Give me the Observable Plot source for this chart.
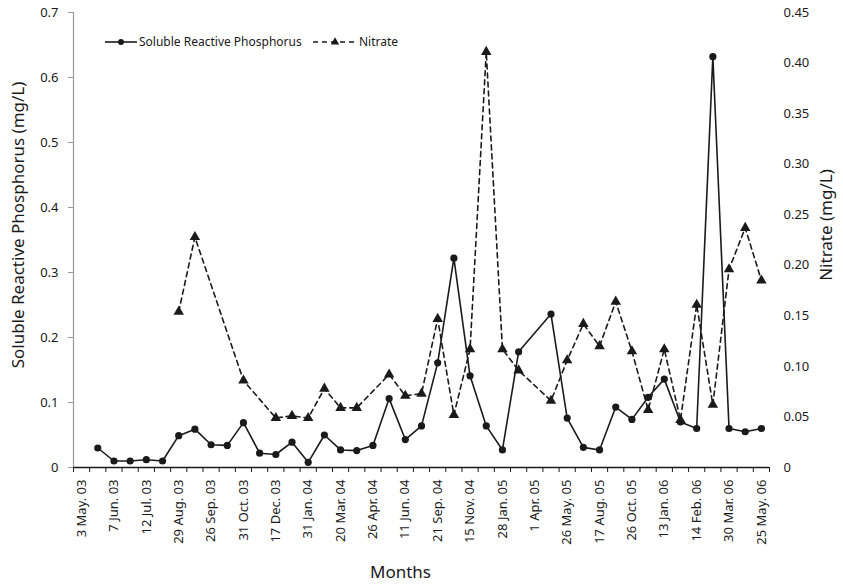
<!DOCTYPE html>
<html><head><meta charset="utf-8">
<script src="https://cdn.jsdelivr.net/npm/d3@7"></script>
<script src="https://cdn.jsdelivr.net/npm/@observablehq/plot@0.6"></script>
<style>
body{margin:0;background:#fff;}
#wrap{position:relative;width:843px;height:587px;font-family:"Noto Sans",sans-serif;color:#1a1a1a;}
#legend{position:absolute;left:0;top:0;pointer-events:none;}
</style></head><body><div id="wrap"></div>
<script>
const tickLabels = ["3 May. 03","7 Jun. 03","12 Jul. 03","29 Aug. 03","26 Sep. 03","31 Oct. 03","17 Dec. 03","31 Jan. 04","20 Mar. 04","26 Apr. 04","11 Jun. 04","21 Sep. 04","15 Nov. 04","28 Jan. 05","1 Apr. 05","26 May. 05","17 Aug. 05","26 Oct. 05","13 Jan. 06","14 Feb. 06","30 Mar. 06","25 May. 06"];
const srp = [null,0.030,0.010,0.010,0.012,0.010,0.049,0.059,0.035,0.034,0.069,0.022,0.020,0.039,0.008,0.050,0.027,0.026,0.034,0.106,0.043,0.064,0.161,0.322,0.141,0.064,0.027,0.178,null,0.236,0.076,0.031,0.027,0.093,0.074,0.108,0.136,0.070,0.060,0.632,0.060,0.055,0.060];
const nitrate = [null,null,null,null,null,null,0.154,0.228,null,null,0.086,null,0.049,0.051,0.049,0.078,0.059,0.059,null,0.092,0.071,0.073,0.147,0.052,0.117,0.411,0.117,0.096,null,0.066,0.106,0.142,0.120,0.164,0.115,0.057,0.117,0.047,0.161,0.062,0.196,0.237,0.185];
const leftTicks = [0,0.1,0.2,0.3,0.4,0.5,0.6,0.7];
const rightTicks = [0,0.05,0.10,0.15,0.20,0.25,0.30,0.35,0.40,0.45];
const seriesNames = ["Soluble Reactive Phosphorus","Nitrate"];
const axisTitles = {left:"Soluble Reactive Phosphorus (mg/L)", right:"Nitrate (mg/L)", bottom:"Months"};

const categories = d3.range(srp.length);
const k = 0.7 / 0.45;
const srpData = categories.filter(i => srp[i] != null).map(i => ({i, v: srp[i]}));
const nitData = categories.filter(i => nitrate[i] != null).map(i => ({i, v: nitrate[i] * k}));
const boundaries = d3.range(categories.length + 1).map(i => i - 0.5);
const labelIdx = tickLabels.map((_, j) => j * 2);

const chart = Plot.plot({
  width: 843, height: 587,
  marginLeft: 73, marginRight: 74, marginTop: 12, marginBottom: 120,
  style: {fontFamily: "'Noto Sans', sans-serif", fontSize: "13px", color: "#1a1a1a", background: "white", overflow: "visible"},
  x: {type: "linear", domain: [-0.5, categories.length - 0.5], axis: null},
  y: {domain: [0, 0.7], axis: null},
  marks: [
    Plot.ruleX([-0.5], {stroke: "#9a9a9a", strokeWidth: 1.2}),
    Plot.axisY(leftTicks, {anchor: "left", tickSize: 5, tickPadding: 10, stroke: "#9a9a9a", label: null, fontSize: 13,
      tickFormat: d => d === 0 ? "0" : d.toFixed(1)}),
    Plot.axisY(rightTicks.map(t => t * k), {anchor: "right", tickSize: 0, tickPadding: 14, label: null, fontSize: 13,
      tickFormat: d => { const v = d / k; return v < 1e-9 ? "0" : v.toFixed(2); }}),
    Plot.axisX(boundaries, {anchor: "bottom", tickSize: 5, fill: "none", stroke: "#1a1a1a", label: null}),
    Plot.axisX(labelIdx, {anchor: "bottom", tickSize: 0, tickPadding: 12, tickRotate: -90, label: null, fontSize: 13,
      tickFormat: i => tickLabels[Math.round(i / 2)]}),
    Plot.ruleY([0], {stroke: "#1a1a1a", strokeWidth: 1.3}),
    Plot.line(srpData, {x: "i", y: "v", stroke: "#1a1a1a", strokeWidth: 1.6}),
    Plot.dot(srpData, {x: "i", y: "v", r: 3.6, fill: "#1a1a1a", stroke: "none"}),
    Plot.line(nitData, {x: "i", y: "v", stroke: "#1a1a1a", strokeWidth: 1.6, strokeDasharray: "5,4"}),
    Plot.dot(nitData, {x: "i", y: "v", symbol: "triangle", r: 3.9, fill: "#1a1a1a", stroke: "none"}),
    Plot.text([axisTitles.left], {frameAnchor: "left", rotate: -90, dx: -55, dy: -15, fontSize: 17, textAnchor: "middle", lineAnchor: "middle"}),
    Plot.text([axisTitles.right], {frameAnchor: "right", rotate: -90, dx: 57, dy: -15, fontSize: 17, textAnchor: "middle", lineAnchor: "middle"}),
    Plot.text([axisTitles.bottom], {frameAnchor: "bottom", dx: -21, dy: 105, fontSize: 17, textAnchor: "middle", lineAnchor: "middle"})
  ]
});
const wrap = document.getElementById("wrap");
wrap.appendChild(chart);

// legend overlay
const lg = d3.select(wrap).append("svg").attr("id", "legend").attr("width", 843).attr("height", 60)
  .style("font-family", "'Noto Sans', sans-serif").style("font-size", "12px");
const ly = 42;
lg.append("line").attr("x1", 105).attr("x2", 137).attr("y1", ly).attr("y2", ly).attr("stroke", "#1a1a1a").attr("stroke-width", 1.6);
lg.append("circle").attr("cx", 121).attr("cy", ly).attr("r", 3).attr("fill", "#1a1a1a");
lg.append("text").attr("x", 139).attr("y", ly).attr("dy", "0.35em").attr("fill", "#1a1a1a").text(seriesNames[0]);
lg.append("line").attr("x1", 313).attr("x2", 357).attr("y1", ly).attr("y2", ly).attr("stroke", "#1a1a1a").attr("stroke-width", 1.6).attr("stroke-dasharray", "5,4");
lg.append("path").attr("d", d3.symbol(d3.symbolTriangle, 30)()).attr("transform", `translate(335,${ly})`).attr("fill", "#1a1a1a");
lg.append("text").attr("x", 359).attr("y", ly).attr("dy", "0.35em").attr("fill", "#1a1a1a").text(seriesNames[1]);
</script></body></html>
